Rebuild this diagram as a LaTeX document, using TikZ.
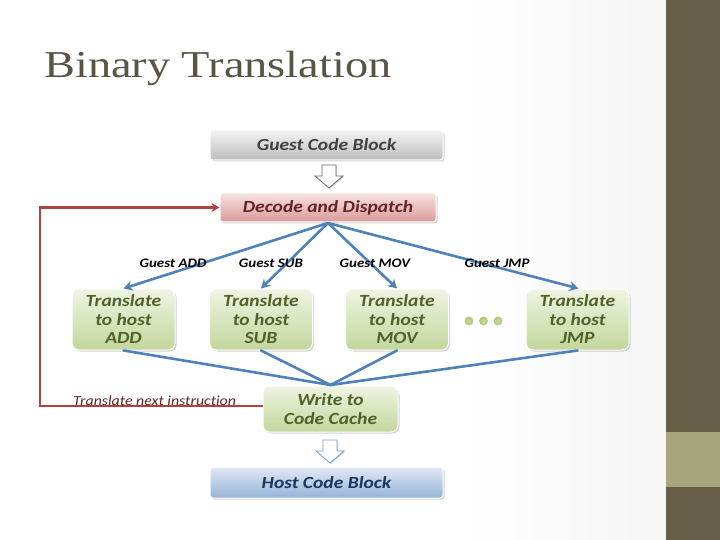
\documentclass[tikz,border=0pt]{standalone}
\usepackage{fontspec}
\setmainfont{Carlito}[FakeStretch=1.15, Ligatures=NoCommon]
\newfontfamily\titlefont{Liberation Serif}[FakeStretch=1.22]
\usetikzlibrary{shadows,arrows.meta}
\definecolor{barDark}{HTML}{675E47}
\definecolor{barLight}{HTML}{A8A67F}
\definecolor{titleC}{HTML}{5A5444}
\definecolor{blueLine}{HTML}{4F81BD}
\definecolor{redLine}{HTML}{B5413F}
\definecolor{greenTop}{HTML}{EFF4E4}
\definecolor{greenBot}{HTML}{C3D69B}
\definecolor{greenTxt}{HTML}{4F6228}
\definecolor{dotC}{HTML}{A6C46A}
\definecolor{pinkTop}{HTML}{F6E2E1}
\definecolor{pinkBot}{HTML}{DA9A98}
\definecolor{pinkTxt}{HTML}{632423}
\definecolor{grayTop}{HTML}{F4F4F4}
\definecolor{grayBot}{HTML}{BDBDBD}
\definecolor{grayTxt}{HTML}{404040}
\definecolor{blueTop}{HTML}{E0E9F4}
\definecolor{blueBot}{HTML}{95B3D7}
\definecolor{blueTxt}{HTML}{17375E}
\pgfdeclarehorizontalshading{bgshade}{100bp}{color(0bp)=(white); color(60bp)=(white); color(100bp)=(white!89!black)}
\tikzset{
  bar/.style={rounded corners=3pt, draw=white, line width=1pt, minimum width=233pt, minimum height=30pt,
    font=\fontsize{17}{19}\selectfont\bfseries\itshape, inner sep=0pt,
    drop shadow={shadow xshift=1.5pt, shadow yshift=-1.5pt, opacity=0.35}},
  greybar/.style={bar, top color=grayTop, bottom color=grayBot, text=grayTxt},
  pinkbar/.style={bar, top color=pinkTop, bottom color=pinkBot, text=pinkTxt, minimum width=216pt, minimum height=29pt},
  bluebar/.style={bar, top color=blueTop, bottom color=blueBot, text=blueTxt, minimum height=31pt},
  greenbox/.style={rounded corners=7pt, draw=white, line width=1pt, top color=greenTop, bottom color=greenBot,
    text=greenTxt, font=\fontsize{17}{18.5}\selectfont\bfseries\itshape, align=center, inner sep=0pt,
    minimum width=103pt, minimum height=61pt,
    drop shadow={shadow xshift=1.5pt, shadow yshift=-1.5pt, opacity=0.35}},
  blink/.style={draw=blueLine, line width=2.6pt, line cap=round},
  barrow/.style={blink, -{Stealth[length=9pt,width=10pt]}},
  glabel/.style={font=\fontsize{13}{15}\selectfont\bfseries\itshape, text=black, inner sep=0pt},
  hollow/.style={line width=0.8pt, drop shadow={shadow xshift=1pt, shadow yshift=-1pt, opacity=0.3}},
  gdot/.style={circle, draw=white, line width=0.8pt, inner color=dotC!60, outer color=dotC, minimum size=10pt, inner sep=0pt},
}
\begin{document}
\begin{tikzpicture}[x=1pt,y=-1pt]
\useasboundingbox (0,0) rectangle (720,540);
% background
\shade[shading=bgshade] (0,0) rectangle (666,540);
\fill[barDark] (666,0) rectangle (720,540);
\fill[barLight] (666,432) rectangle (720,487);
% title
\node[anchor=base west, inner sep=0pt, text=titleC, font=\titlefont\fontsize{38}{42}\selectfont] (title) at (44,78) {Binary Translation};
% boxes
\node[greybar] (guest) at (326.5,145) {Guest Code Block};
\node[pinkbar] (dd) at (328,207.5) {Decode and Dispatch};
\node[greenbox] (add) at (123.5,319.5) {Translate\\to host\\ADD};
\node[greenbox] (sub) at (261,319.5) {Translate\\to host\\SUB};
\node[greenbox] (mov) at (397,319.5) {Translate\\to host\\MOV};
\node[greenbox] (jmp) at (577.5,319.5) {Translate\\to host\\JMP};
\node[greenbox, minimum width=135pt, minimum height=46pt] (wcc) at (330.5,409) {Write to\\Code Cache};
\node[bluebar] (host) at (326.5,482.5) {Host Code Block};
% hollow arrows
\draw[hollow, draw=gray!80!black, fill=white] (322,165) -- (336,165) -- (336,176) -- (343,176) -- (329,188) -- (315,176) -- (322,176) -- cycle;
\draw[hollow, draw=blueLine!80, fill=white] (323,440) -- (337,440) -- (337,451) -- (344,451) -- (330,463) -- (316,451) -- (323,451) -- cycle;
% dots
\node[gdot] (d1) at (469,321) {};
\node[gdot] (d2) at (483.5,321) {};
\node[gdot] (d3) at (498,321) {};
% red loop
\coordinate (lc1) at (40,406);
\coordinate (lc2) at (40,207.5);
\draw[draw=redLine, line width=2.6pt, -{Stealth[length=8pt,width=9pt]}] (wcc.west |- 0,406) -- (lc1) -- (lc2) -- (dd.west);
\node[anchor=base west, inner sep=0pt, text=pinkTxt, font=\fontsize{13.8}{15}\selectfont\itshape] (tni) at (73,405) {Translate next instruction};
% dispatch arrows
\coordinate (ddb) at (328,223);
\draw[barrow] (ddb) -- (add.north);
\draw[barrow] (ddb) -- (sub.north);
\draw[barrow] (ddb) -- (mov.north);
\draw[barrow] (ddb) -- ([xshift=1pt]jmp.north);
% labels
\node[glabel] (lADD) at (173,263) {Guest ADD};
\node[glabel] (lSUB) at (271,263) {Guest SUB};
\node[glabel] (lMOV) at (375,263) {Guest MOV};
\node[glabel] (lJMP) at (497,263) {Guest JMP};
% converging lines
\coordinate (wt) at (330.5,385);
\draw[blink] (add.south) -- (wt);
\draw[blink] (sub.south) -- (wt);
\draw[blink] (mov.south) -- (wt);
\draw[blink] (jmp.south) -- (wt);
\end{tikzpicture}
\end{document}
